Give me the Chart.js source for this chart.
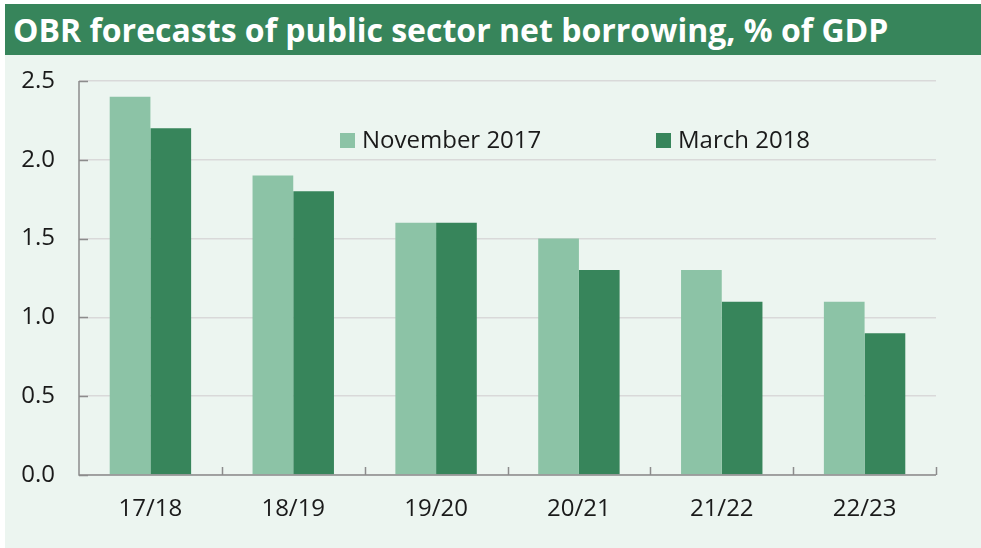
<!DOCTYPE html>
<html>
<head>
<meta charset="utf-8">
<script src="https://cdn.jsdelivr.net/npm/chart.js@4/dist/chart.umd.min.js"></script>
<style>
  html, body { margin: 0; padding: 0; background: #fff; }
  body { width: 981px; height: 548px; position: relative; overflow: hidden; font-family: "Open Sans", sans-serif; }
  .title { position: absolute; left: 5px; top: 4px; width: 976px; height: 51px; background: #37855b; color: #fff;
    font-weight: bold; font-size: 32px; line-height: 51px; padding-left: 8px; box-sizing: border-box; white-space: nowrap; }
  .panel { position: absolute; left: 5px; top: 55px; width: 976px; height: 493px; background: #ecf5f0; }
  .panel canvas { display: block; }
  .legend { position: absolute; top: 123px; font-size: 24px; color: #1a1a1a; white-space: nowrap; line-height: 32px; }
  .legend span.box { display: inline-block; width: 15px; height: 15px; margin-right: 7px; vertical-align: 0px; }
</style>
</head>
<body>
<div class="title">OBR forecasts of public sector net borrowing, % of GDP</div>
<div class="panel"><canvas id="chart" width="976" height="493"></canvas></div>
<div class="legend" style="left:340px"><span class="box" style="background:#8cc3a6"></span>November 2017</div>
<div class="legend" style="left:656px"><span class="box" style="background:#37855b"></span>March 2018</div>
<script>
const categories = ['17/18', '18/19', '19/20', '20/21', '21/22', '22/23'];
const november2017 = [2.4, 1.9, 1.6, 1.5, 1.3, 1.1];
const march2018 = [2.2, 1.8, 1.6, 1.3, 1.1, 0.9];
const yTicks = [0, 0.5, 1.0, 1.5, 2.0, 2.5];

// inner tick marks on both axes
const innerTicks = {
    id: 'innerTicks',
    afterDraw(chart) {
        const ctx = chart.ctx;
        const y = chart.scales.y;
        const area = chart.chartArea;
        ctx.save();
        ctx.strokeStyle = '#8c8c8c';
        ctx.lineWidth = 1.5;
        ctx.beginPath();
        ctx.moveTo(area.left, area.top);
        ctx.lineTo(area.left, area.bottom);
        ctx.lineTo(area.right, area.bottom);
        yTicks.forEach(v => {
            const py = Math.round(y.getPixelForValue(v)) + 0.5;
            ctx.moveTo(area.left, py);
            ctx.lineTo(area.left + 9, py);
        });
        const step = (area.right - area.left) / categories.length;
        for (let i = 1; i <= categories.length; i++) {
            const px = Math.round(area.left + step * i) + 0.5;
            ctx.moveTo(px, area.bottom);
            ctx.lineTo(px, area.bottom - 8);
        }
        ctx.stroke();
        ctx.restore();
    }
};

new Chart(document.getElementById('chart'), {
    type: 'bar',
    data: {
        labels: categories,
        datasets: [{
            label: 'November 2017',
            data: november2017,
            backgroundColor: '#8cc3a6',
            barPercentage: 1,
            categoryPercentage: 0.57
        }, {
            label: 'March 2018',
            data: march2018,
            backgroundColor: '#37855b',
            barPercentage: 1,
            categoryPercentage: 0.57
        }]
    },
    options: {
        responsive: false,
        animation: false,
        layout: { padding: { top: 26, right: 45, left: 0, bottom: 0 } },
        plugins: { legend: { display: false }, tooltip: { enabled: false } },
        scales: {
            x: {
                grid: { display: false },
                border: { display: false },
                ticks: { color: '#1a1a1a', font: { family: 'Open Sans', size: 24 }, padding: 12 },
                afterFit(scale) { scale.height = 73; scale.paddingLeft = 0; scale.paddingRight = 0; }
            },
            y: {
                min: 0,
                max: 2.5,
                afterBuildTicks(scale) { scale.ticks = yTicks.map(v => ({ value: v })); },
                grid: { color: '#d9d9d9', lineWidth: 1.5, drawTicks: false },
                border: { display: false },
                ticks: {
                    color: '#1a1a1a',
                    font: { family: 'Open Sans', size: 24 },
                    padding: 24,
                    callback: v => v.toFixed(1)
                },
                afterFit(scale) { scale.width = 74; scale.paddingTop = 0; scale.paddingBottom = 0; }
            }
        }
    },
    plugins: [innerTicks]
});
</script>
</body>
</html>
